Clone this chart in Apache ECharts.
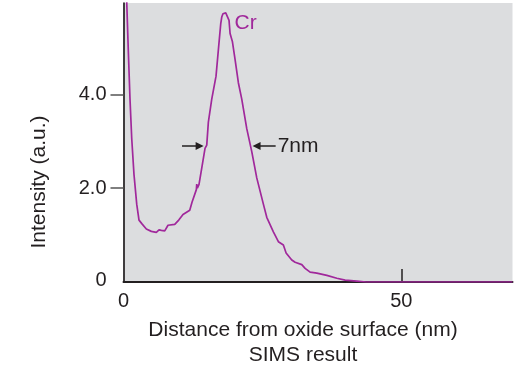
<!DOCTYPE html>
<html>
<head>
<meta charset="utf-8">
<script src="https://cdn.jsdelivr.net/npm/echarts@6/dist/echarts.min.js"></script>
<style>html,body{margin:0;padding:0;background:#fff}#c{width:526px;height:373px}</style>
</head>
<body>
<div id="c"></div>
<script>
// Cr SIMS depth profile
const distance = [0.56, 0.86, 1.17, 1.48, 1.89, 2.38, 2.79, 3.33, 4.11, 5.01, 5.91, 6.39, 6.81, 7.42, 8.01, 9.22, 9.94, 10.71, 11.92, 12.33, 13.11, 13.18, 13.29, 13.59, 14.08, 14.67, 14.98, 15.27, 15.88, 16.65, 17.07, 17.5, 17.68, 17.9, 18.15, 18.4, 18.58, 18.99, 19.18, 19.59, 20.08, 20.67, 21.28, 22.18, 23.08, 23.98, 25.17, 25.78, 26.97, 27.87, 28.77, 29.08, 29.26, 30.28, 30.88, 32.08, 32.68, 33.58, 34.79, 36.59, 38.39, 39.88, 41.99, 43.66, 70];
const intensity = [6.05, 4.95, 3.9, 3.06, 2.29, 1.66, 1.32, 1.24, 1.13, 1.08, 1.06, 1.11, 1.1, 1.09, 1.21, 1.23, 1.32, 1.44, 1.53, 1.7, 1.97, 2.09, 2.0, 2.08, 2.43, 2.85, 2.92, 3.41, 3.9, 4.39, 4.95, 5.51, 5.65, 5.72, 5.75, 5.74, 5.72, 5.58, 5.3, 5.13, 4.74, 4.25, 3.9, 3.27, 2.78, 2.22, 1.66, 1.38, 1.07, 0.86, 0.79, 0.75, 0.62, 0.47, 0.42, 0.37, 0.29, 0.21, 0.19, 0.14, 0.08, 0.04, 0.02, 0, 0];
const xTickLabels = [0, 50];
const xTicks = [50];
const yTickLabels = [0, 2, 4];
const yTicks = [2, 4];
const seriesName = 'Cr';
const xTitle = 'Distance from oxide surface (nm)\nSIMS result';
const yTitle = 'Intensity (a.u.)';
const widthLabel = '7nm';
// annotation anchors (data coords)
const leftArrow = [[10.53, 2.9], [13.7, 2.9]];
const rightArrow = [[27.38, 2.9], [23.95, 2.9]];
const crLabelPos = [21.97, 5.52];

const FONT = 'Liberation Sans, Arial, Helvetica, sans-serif';
const INK = '#231f20';
const PURPLE = '#a0289b';

const chart = echarts.init(document.getElementById('c'), null, {renderer: 'canvas'});
chart.setOption({
  animation: false,
  grid: {left: 123.5, right: 13.5, top: 3, bottom: 87, show: true, backgroundColor: '#dcdddf', borderWidth: 0},
  xAxis: {
    type: 'value', min: 0, max: 70,
    splitLine: {show: false},
    axisLine: {show: true, onZero: false, lineStyle: {color: INK, width: 2}},
    axisTick: {show: true, inside: true, length: 13, customValues: xTicks, lineStyle: {color: INK, width: 1.5}},
    axisLabel: {customValues: xTickLabels, margin: 9, fontSize: 20, fontFamily: FONT, color: INK},
    name: xTitle, nameLocation: 'middle', nameGap: 36,
    nameTextStyle: {fontSize: 21, fontFamily: FONT, color: INK, lineHeight: 25, padding: [0, 30, 0, 0]}
  },
  yAxis: {
    type: 'value', min: 0, max: 5.95,
    splitLine: {show: false},
    axisLine: {show: true, lineStyle: {color: INK, width: 1.7}},
    axisTick: {show: true, inside: false, length: 13, customValues: yTicks, lineStyle: {color: '#555', width: 1.5}},
    axisLabel: {
      customValues: yTickLabels, margin: 17, fontSize: 20, fontFamily: FONT, color: INK,
      formatter: v => v === 0 ? '{z|0}' : v.toFixed(1),
      rich: {z: {fontSize: 20, fontFamily: FONT, color: INK, padding: [0, 0, 4, 0]}}
    }
  },
  graphic: [{
    type: 'text', x: 39, y: 182, rotation: Math.PI / 2,
    style: {text: yTitle, fontSize: 21, fontFamily: FONT, fill: INK, align: 'center', verticalAlign: 'middle'}
  }],
  series: [{
    name: seriesName, type: 'line', showSymbol: false, clip: true,
    data: distance.map((d, i) => [d, intensity[i]]),
    lineStyle: {color: PURPLE, width: 1.7},
    markLine: {
      silent: true, animation: false,
      lineStyle: {color: INK, width: 1.5, type: 'solid'},
      symbolSize: [8, 8],
      label: {show: false},
      data: [
        [{coord: leftArrow[0], symbol: 'none'}, {coord: leftArrow[1], symbol: 'triangle'}],
        [{coord: rightArrow[0], symbol: 'none',
          label: {show: true, position: 'start', distance: 2, formatter: widthLabel, fontSize: 21, fontFamily: FONT, color: INK}},
         {coord: rightArrow[1], symbol: 'triangle'}]
      ]
    },
    markPoint: {
      silent: true, symbol: 'circle', symbolSize: 0,
      label: {show: true, position: 'inside', formatter: seriesName, fontSize: 21, fontFamily: FONT, color: PURPLE},
      data: [{coord: crLabelPos}]
    }
  }]
});
</script>
</body>
</html>
